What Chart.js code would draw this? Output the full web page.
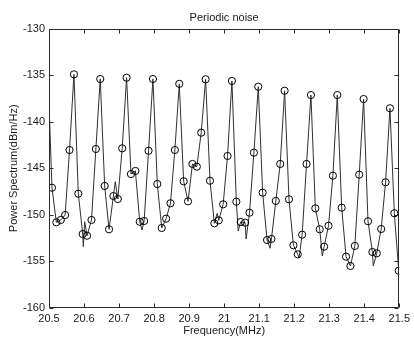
<!DOCTYPE html>
<html><head><meta charset="utf-8">
<script src="https://cdn.jsdelivr.net/npm/chart.js@4/dist/chart.umd.min.js"></script>
<style>html,body{margin:0;padding:0;background:#fff;overflow:hidden}canvas{display:block}</style>
</head><body>
<canvas id="c" width="414" height="338"></canvas>
<script>
// Circle markers (sampled spectrum)
const markerFreq = [
 20.5085,20.5210,20.5336,20.5461,20.5586,20.5712,20.5837,20.5962,20.6087,20.6213,
 20.6338,20.6463,20.6589,20.6714,20.6839,20.6965,20.7090,20.7215,20.7340,20.7466,
 20.7591,20.7716,20.7842,20.7967,20.8092,20.8218,20.8343,20.8468,20.8593,20.8719,
 20.8844,20.8969,20.9095,20.9220,20.9345,20.9471,20.9596,20.9721,20.9846,20.9972,
 21.0097,21.0222,21.0348,21.0473,21.0598,21.0724,21.0849,21.0974,21.1099,21.1225,
 21.1350,21.1475,21.1601,21.1726,21.1851,21.1977,21.2102,21.2227,21.2352,21.2478,
 21.2603,21.2728,21.2854,21.2979,21.3104,21.3230,21.3355,21.3480,21.3605,21.3731,
 21.3856,21.3981,21.4107,21.4232,21.4357,21.4483,21.4608,21.4733,21.4858,21.4984
];
const markerPower = [
 -147.09,-150.80,-150.55,-150.02,-143.04,-134.92,-147.73,-152.06,-152.24,-150.55,
 -142.93,-135.42,-146.90,-151.55,-147.98,-148.30,-142.86,-135.28,-145.62,-145.29,
 -150.74,-150.66,-143.12,-135.42,-146.69,-151.41,-150.41,-148.76,-143.04,-135.94,
 -146.40,-148.55,-144.54,-144.83,-141.18,-135.45,-146.34,-150.91,-150.59,-148.87,
 -143.68,-135.63,-148.59,-150.77,-150.84,-149.77,-143.33,-136.25,-147.62,-152.70,
 -152.59,-148.51,-144.54,-136.68,-148.33,-153.27,-154.24,-152.13,-144.54,-137.14,
 -149.30,-151.55,-153.42,-151.17,-145.80,-137.14,-149.23,-154.49,-155.49,-153.34,
 -145.69,-137.57,-150.69,-153.99,-154.13,-151.52,-146.51,-138.56,-149.83,-156.00
];
// Extra vertices of the fine trace (noise spikes between markers)
const traceFreq  = [20.5000,20.5980,20.6017,20.6893,20.7655,20.9802,21.0401,21.0627,21.1311,21.2138,21.2802,21.4257];
const tracePower = [-138.00,-153.42,-150.74,-146.44,-151.63,-149.84,-151.73,-152.59,-153.59,-154.63,-154.42,-155.49];

const xTickValues = [20.5,20.6,20.7,20.8,20.9,21,21.1,21.2,21.3,21.4,21.5];
const xTickLabels = ['20.5','20.6','20.7','20.8','20.9','21','21.1','21.2','21.3','21.4','21.5'];
const yTickValues = [-160,-155,-150,-145,-140,-135,-130];
const yTickLabels = ['-160','-155','-150','-145','-140','-135','-130'];

const markers = markerFreq.map((f,i)=>({x:f,y:markerPower[i]}));
const trace = markers.concat(traceFreq.map((f,i)=>({x:f,y:tracePower[i]}))).sort((a,b)=>a.x-b.x);

const FONT = {family:'"Liberation Sans", Arial, sans-serif', size:11};
const ink = '#1a1a1a';

const boxTicks = {
  id:'boxTicks',
  afterDatasetsDraw(chart){
    const {ctx, chartArea:a, scales:{x,y}} = chart;
    ctx.save();
    ctx.strokeStyle = '#2a2a2a';
    ctx.lineWidth = 1;
    const L = Math.round(a.left)+0.5, R = Math.round(a.right)-0.5, T = Math.round(a.top)+0.5, B = Math.round(a.bottom)-0.5;
    ctx.beginPath();
    ctx.rect(L, T, R-L, B-T);
    const tl = 4;
    xTickValues.forEach(v=>{
      const px = Math.round(x.getPixelForValue(v))+0.5;
      ctx.moveTo(px,B); ctx.lineTo(px,B-tl);
      ctx.moveTo(px,T); ctx.lineTo(px,T+tl);
    });
    yTickValues.forEach(v=>{
      const py = Math.round(y.getPixelForValue(v))+0.5;
      ctx.moveTo(L,py); ctx.lineTo(L+tl,py);
      ctx.moveTo(R,py); ctx.lineTo(R-tl,py);
    });
    ctx.stroke();
    ctx.restore();
  }
};

new Chart(document.getElementById('c'), {
  type:'scatter',
  data:{datasets:[
    {data:trace, showLine:true, borderColor:'#303030', borderWidth:1, pointRadius:0, tension:0, order:2},
    {data:markers, showLine:false, pointStyle:'circle', pointRadius:3.6, borderColor:'#000', borderWidth:1, backgroundColor:'rgba(0,0,0,0)', order:1}
  ]},
  options:{
    responsive:false, animation:false, devicePixelRatio:1,
    layout:{padding:{left:0,right:11,top:0,bottom:0}},
    plugins:{legend:{display:false}, tooltip:{enabled:false}, title:{display:false}},
    scales:{
      x:{type:'linear', position:'bottom', min:20.5, max:21.5,
         afterBuildTicks:s=>{s.ticks = xTickValues.map(v=>({value:v}));},
         afterFit:s=>{s.height = 30;},
         grid:{display:false, drawTicks:false}, border:{display:false},
         ticks:{autoSkip:false, maxRotation:0, padding:4, color:ink, font:FONT, callback:(v,i)=>xTickLabels[i]},
         title:{display:true, text:'Frequency(MHz)', color:ink, font:FONT, padding:{top:0,bottom:0}}},
      x2:{type:'linear', position:'top', min:20.5, max:21.5,
         afterFit:s=>{s.height = 28.5;},
         grid:{display:false, drawTicks:false}, border:{display:false}, ticks:{display:false},
         title:{display:true, text:'Periodic noise', color:ink, font:FONT, padding:{top:11,bottom:0}}},
      y:{type:'linear', position:'left', min:-160, max:-130,
         afterBuildTicks:s=>{s.ticks = yTickValues.map(v=>({value:v}));},
         afterFit:s=>{s.width = 49;},
         grid:{display:false, drawTicks:false}, border:{display:false},
         ticks:{padding:4, color:ink, font:FONT, callback:(v,i)=>yTickLabels[i]},
         title:{display:true, text:'Power Spectrum(dBm/Hz)', color:ink, font:FONT, padding:{top:7,bottom:0}}}
    }
  },
  plugins:[boxTicks]
});
</script>
</body></html>
